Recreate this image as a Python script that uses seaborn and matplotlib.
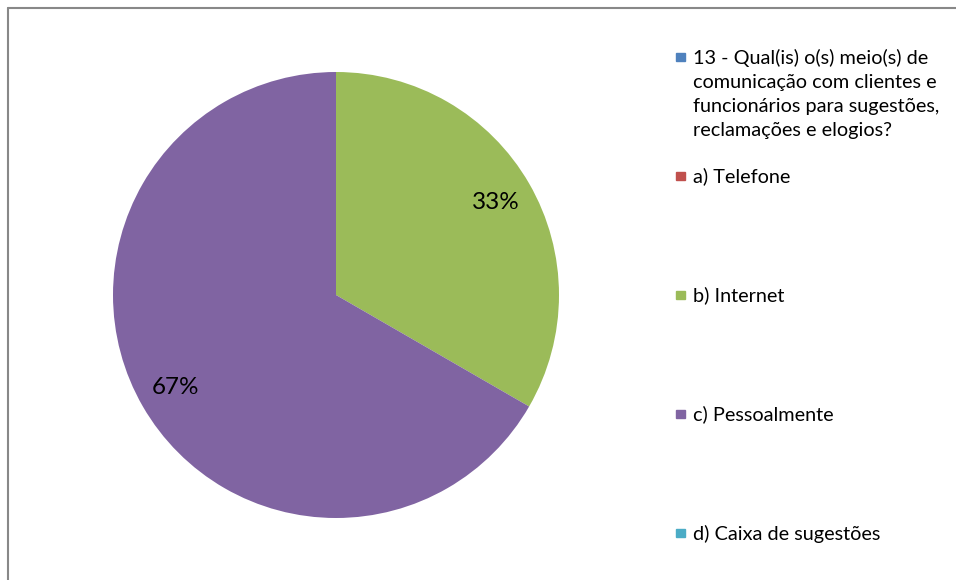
import matplotlib
matplotlib.use("Agg")
import matplotlib.pyplot as plt
import seaborn as sns

# categories and values (question header is included as a zero series, like the source sheet)
categories = [
    "13 - Qual(is) o(s) meio(s) de\ncomunicação com clientes e\nfuncionários para sugestões,\nreclamações e elogios?",
    "a) Telefone",
    "b) Internet",
    "c) Pessoalmente",
    "d) Caixa de sugestões",
]
counts = [0, 0, 1, 2, 0]
colors = ["#4F81BD", "#C0504D", "#9BBB59", "#8064A2", "#4BACC6"]
legend_y = [57, 176, 295, 414, 533]  # pixel rows of the legend entries

sns.set_theme(style="white")
plt.rcParams["font.family"] = ["Lato", "DejaVu Sans"]

W, H = 956, 580
fig = plt.figure(figsize=(W / 100, H / 100), dpi=100)

# pie axes: centre (336, 295), radius 223 px
cx, cy, r = 336, 295, 223
ax = fig.add_axes([(cx - r) / W, (H - cy - r) / H, 2 * r / W, 2 * r / H])


def pct(p):
    return f"{p:.0f}%" if p > 0 else ""


wedges, texts, autotexts = ax.pie(
    counts, colors=colors, startangle=90, counterclock=False,
    autopct=pct, pctdistance=0.83, radius=1,
    wedgeprops={"linewidth": 0},
    textprops={"fontsize": 17.5, "color": "black"},
)
ax.set_xlim(-1, 1)
ax.set_ylim(-1, 1)
ax.set_aspect("equal")
ax.axis("off")

# legend, drawn entry by entry to keep Excel's even spacing
sq = 8.5
for lab, col, yy in zip(categories, colors, legend_y):
    fig.patches.append(plt.Rectangle((676 / W, (H - yy - sq / 2) / H), sq / W, sq / H,
                                     transform=fig.transFigure, color=col))
    fig.text(693 / W, (H - yy + 8.5) / H, lab, fontsize=14.3, va="top", ha="left",
             linespacing=1.52, color="black", transform=fig.transFigure)

# outer chart border (top and left visible)
fig.add_artist(plt.Line2D([7.5 / W, 1], [1 - 7.5 / H, 1 - 7.5 / H], color="#888888", lw=1.5))
fig.add_artist(plt.Line2D([7.5 / W, 7.5 / W], [0, 1 - 7.5 / H], color="#888888", lw=1.5))

fig.savefig("out.png", dpi=100, facecolor="white")
